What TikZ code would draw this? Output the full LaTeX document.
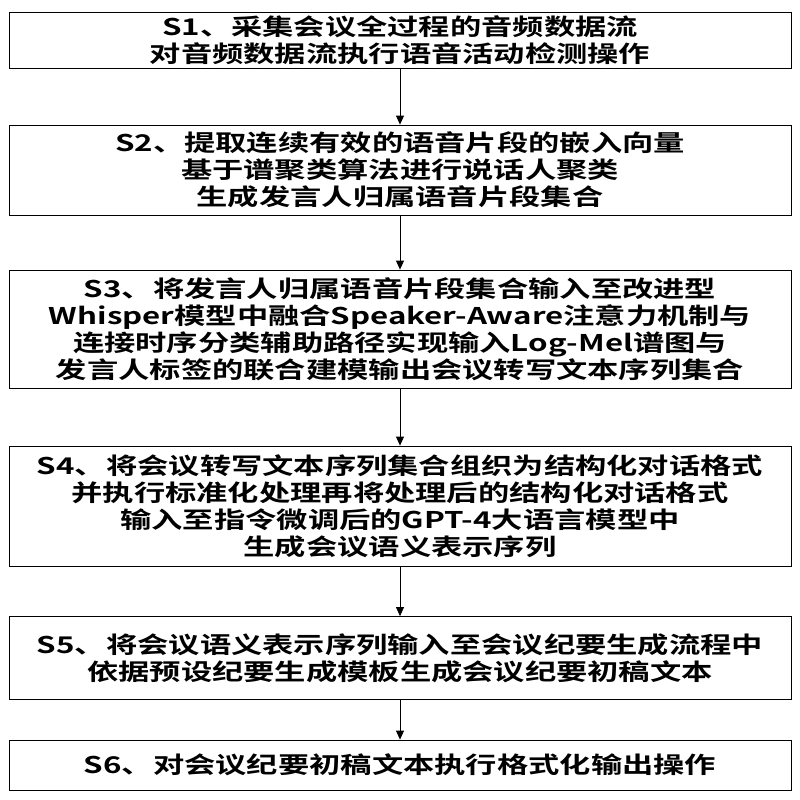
\documentclass[tikz,border=0pt]{standalone}
\usepackage{fontspec}
\setmainfont{Noto Sans CJK SC}[FakeStretch=1.36,BoldFont={Noto Sans CJK SC Bold},BoldFeatures={FakeStretch=1.36}]
\usetikzlibrary{arrows.meta,positioning}
\tikzstyle{arrow} = [thick,-{Triangle[length=9pt,width=8pt]}]
\tikzstyle{stepbox} = [rectangle, draw, thick, minimum width=782pt, text width=778pt, align=center, font=\fontsize{23}{27}\selectfont\bfseries, inner sep=1pt]
\begin{document}
\begin{tikzpicture}[x=1pt,y=-1pt]
\useasboundingbox (0,0) rectangle (800,800);
% Steps
\node (s1) [stepbox, minimum height=56pt] at (400,40) {S1、采集会议全过程的音频数据流\\对音频数据流执行语音活动检测操作};
\node (s2) [stepbox, minimum height=90pt] at (400,170) {S2、提取连续有效的语音片段的嵌入向量\\基于谱聚类算法进行说话人聚类\\生成发言人归属语音片段集合};
\node (s3) [stepbox, minimum height=118pt] at (400,329) {S3、将发言人归属语音片段集合输入至改进型\\Whisper模型中融合Speaker-Aware注意力机制与\\连接时序分类辅助路径实现输入Log-Mel谱图与\\发言人标签的联合建模输出会议转写文本序列集合};
\node (s4) [stepbox, minimum height=120pt] at (400,506) {S4、将会议转写文本序列集合组织为结构化对话格式\\并执行标准化处理再将处理后的结构化对话格式\\输入至指令微调后的GPT-4大语言模型中\\生成会议语义表示序列};
\node (s5) [stepbox, minimum height=83pt] at (400,658) {S5、将会议语义表示序列输入至会议纪要生成流程中\\依据预设纪要生成模板生成会议纪要初稿文本};
\node (s6) [stepbox, minimum height=50pt] at (400,765) {S6、对会议纪要初稿文本执行格式化输出操作};

% Arrows
\draw[arrow] (s1) -- (s2);
\draw[arrow] (s2) -- (s3);
\draw[arrow] (s3) -- (s4);
\draw[arrow] (s4) -- (s5);
\draw[arrow] (s5) -- (s6);
\end{tikzpicture}
\end{document}
